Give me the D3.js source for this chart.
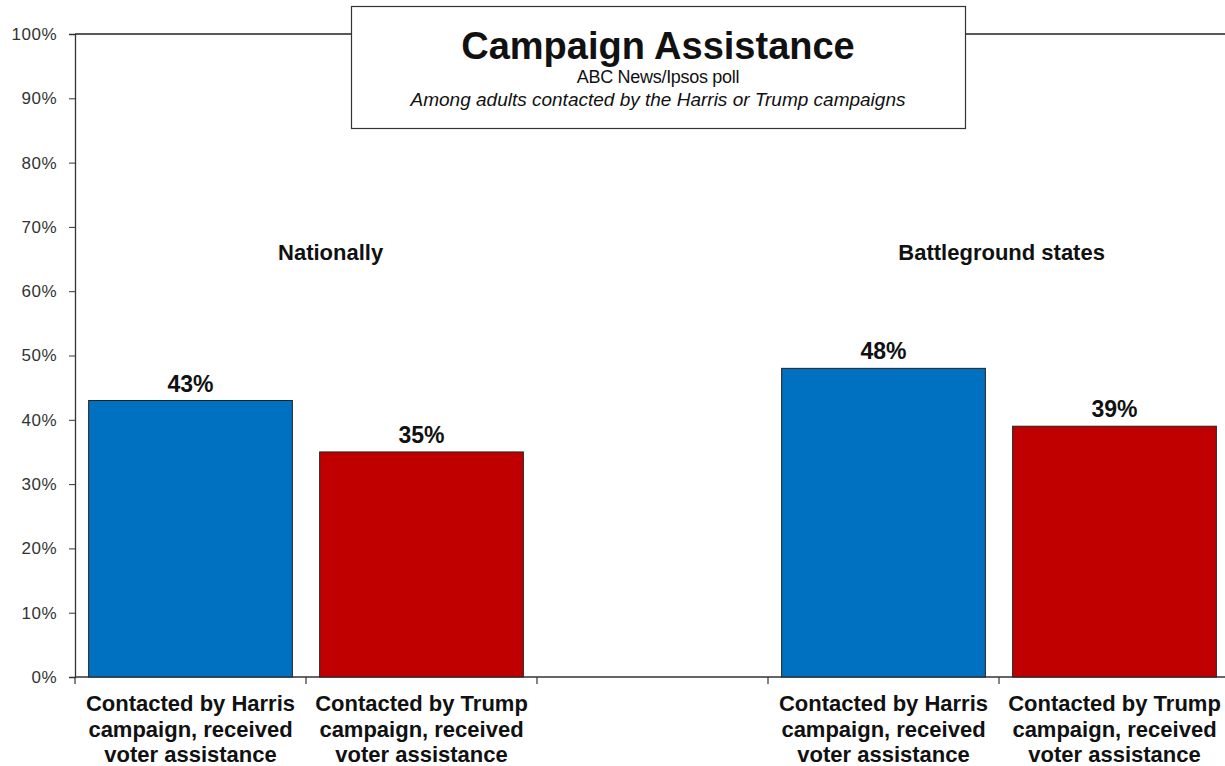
<!DOCTYPE html>
<html>
<head>
<meta charset="utf-8">
<script src="https://cdn.jsdelivr.net/npm/d3@7"></script>
<style>
  body { margin: 0; background: #fff; }
  svg { font-family: "Liberation Sans", Arial, sans-serif; }
</style>
</head>
<body>
<div id="chart"></div>
<script>
// Categories along the x axis (blank slot separates the two groups)
const categories = ['harrisNat', 'trumpNat', 'gap', 'harrisBg', 'trumpBg'];
const barLabels = [
  ['Contacted by Harris', 'campaign, received', 'voter assistance'],
  ['Contacted by Trump', 'campaign, received', 'voter assistance'],
  [],
  ['Contacted by Harris', 'campaign, received', 'voter assistance'],
  ['Contacted by Trump', 'campaign, received', 'voter assistance']
];
const values = [43, 35, null, 48, 39];
const barColors = ['#0070C0', '#C00000', null, '#0070C0', '#C00000'];
const yTicks = [0, 10, 20, 30, 40, 50, 60, 70, 80, 90, 100];
const groupLabels = ['Nationally', 'Battleground states'];

const width = 1225, height = 766;
const margin = { left: 75, top: 34, right: -5, bottom: 89 };

const svg = d3.select('#chart').append('svg')
    .attr('width', width)
    .attr('height', height);

const x = d3.scaleBand()
    .domain(categories)
    .range([margin.left, width - margin.right])
    .paddingInner(0.118)
    .paddingOuter(0.059);

const y = d3.scaleLinear()
    .domain([0, 100])
    .range([height - margin.bottom, margin.top]);

// top border of the plot area
svg.append('line')
    .attr('x1', margin.left).attr('x2', width)
    .attr('y1', y(100)).attr('y2', y(100))
    .attr('stroke', '#222').attr('stroke-width', 1.3);

// y axis
const yAxis = svg.append('g')
    .attr('transform', `translate(${margin.left},0)`)
    .call(d3.axisLeft(y).tickValues(yTicks).tickSize(6).tickPadding(12).tickFormat(d => d + '%'));
yAxis.select('.domain').attr('stroke', '#333').attr('stroke-width', 1.3);
yAxis.selectAll('.tick line').attr('stroke', '#333');
yAxis.selectAll('.tick text')
    .attr('fill', '#333')
    .style('font-size', '17px')
    .style('letter-spacing', '0.5px')
    .style('font-family', '"Liberation Sans", Arial, sans-serif');

// x axis baseline with ticks between categories
const step = x.step();
svg.append('line')
    .attr('x1', margin.left).attr('x2', width)
    .attr('y1', y(0)).attr('y2', y(0))
    .attr('stroke', '#333').attr('stroke-width', 1.3);
const boundaries = d3.range(categories.length + 1).map(i => margin.left + i * step);
svg.append('g').selectAll('line')
    .data(boundaries)
    .enter().append('line')
    .attr('x1', d => d).attr('x2', d => d)
    .attr('y1', y(0)).attr('y2', y(0) + 7)
    .attr('stroke', '#333').attr('stroke-width', 1.2);

// bars
const barData = categories.map((c, i) => ({ cat: c, value: values[i], color: barColors[i], label: barLabels[i] }));
svg.append('g').selectAll('rect')
    .data(barData.filter(d => d.value !== null))
    .enter().append('rect')
    .attr('x', d => x(d.cat))
    .attr('y', d => y(d.value))
    .attr('width', x.bandwidth())
    .attr('height', d => y(0) - y(d.value))
    .attr('fill', d => d.color)
    .attr('stroke', '#222')
    .attr('stroke-width', 1);

// value labels
svg.append('g').selectAll('text')
    .data(barData.filter(d => d.value !== null))
    .enter().append('text')
    .attr('x', d => x(d.cat) + x.bandwidth() / 2)
    .attr('y', d => y(d.value) - 9)
    .attr('text-anchor', 'middle')
    .style('font-size', '23px')
    .style('font-weight', 'bold')
    .attr('fill', '#111')
    .text(d => d.value + '%');

// category labels (three lines each)
const catLabels = svg.append('g').selectAll('text')
    .data(barData)
    .enter().append('text')
    .attr('text-anchor', 'middle')
    .style('font-size', '22px')
    .style('font-weight', 'bold')
    .attr('fill', '#111');
catLabels.selectAll('tspan')
    .data(d => d.label.map(t => ({ t, cx: margin.left + categories.indexOf(d.cat) * step + step / 2 })))
    .enter().append('tspan')
    .attr('x', d => d.cx)
    .attr('y', (d, i) => 711 + i * 25.5)
    .text(d => d.t);

// group labels, sitting roughly over the second bar of the national group
// and over the gap between the battleground bars
const groupX = [x('trumpNat') + 11, x('trumpBg') - 11];
svg.append('g').selectAll('text')
    .data(groupLabels)
    .enter().append('text')
    .attr('x', (d, i) => groupX[i])
    .attr('y', 260)
    .attr('text-anchor', 'middle')
    .style('font-size', '22px')
    .style('font-weight', 'bold')
    .attr('fill', '#111')
    .text(d => d);

// title box
const box = svg.append('g');
box.append('rect')
    .attr('x', 351.5).attr('y', 6.5)
    .attr('width', 614).attr('height', 122)
    .attr('fill', '#fff')
    .attr('stroke', '#333')
    .attr('stroke-width', 1.2);
box.append('text')
    .attr('x', 658).attr('y', 59)
    .attr('text-anchor', 'middle')
    .style('font-size', '38px')
    .style('font-weight', 'bold')
    .attr('fill', '#111')
    .text('Campaign Assistance');
box.append('text')
    .attr('x', 658).attr('y', 83)
    .attr('text-anchor', 'middle')
    .style('font-size', '18px')
    .style('letter-spacing', '-0.3px')
    .attr('fill', '#111')
    .text('ABC News/Ipsos  poll');
box.append('text')
    .attr('x', 658).attr('y', 106)
    .attr('text-anchor', 'middle')
    .style('font-size', '19px')
    .style('font-style', 'italic')
    .attr('fill', '#111')
    .text('Among adults contacted by the Harris or Trump campaigns');
</script>
</body>
</html>
